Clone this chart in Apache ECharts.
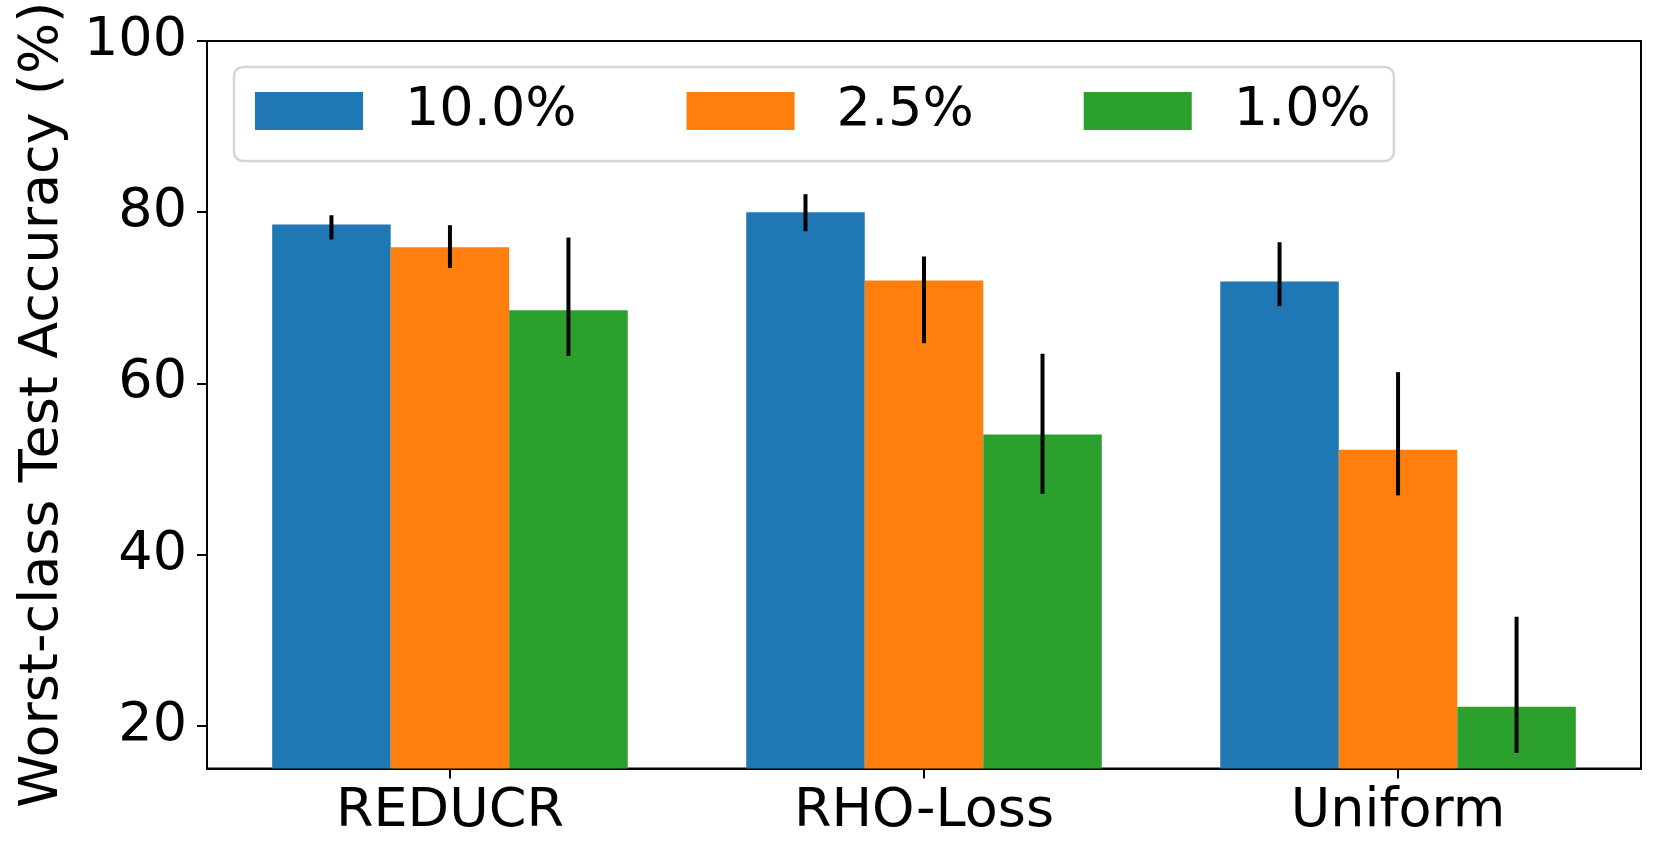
<!DOCTYPE html>
<html>
<head>
<meta charset="utf-8">
<script src="https://cdn.jsdelivr.net/npm/echarts@6/dist/echarts.min.js"></script>
<style>
  html, body { margin: 0; padding: 0; background: #ffffff; }
  #chart { width: 1662px; height: 861px; }
</style>
</head>
<body>
<div id="chart"></div>
<script>
// ---- data ----
const categories = ['REDUCR', 'RHO-Loss', 'Uniform'];
const seriesNames = ['10.0%', '2.5%', '1.0%'];
const yTicks = [20, 40, 60, 80, 100];

// bar heights, per series (10.0%, 2.5%, 1.0%), per category
const values10 = [78.56, 80.0, 71.9];
const values25 = [75.9, 72.02, 52.23];
const values1 = [68.55, 54.03, 22.22];

// error-bar lower / upper ends
const lower10 = [76.81, 77.78, 69.02];
const upper10 = [79.64, 82.1, 76.49];
const lower25 = [73.49, 64.69, 46.91];
const upper25 = [78.48, 74.82, 61.31];
const lower1 = [63.21, 47.1, 16.81];
const upper1 = [77.04, 63.45, 32.73];

// ---- build ----
const allValues = [values10, values25, values1];
const allLower = [lower10, lower25, lower1];
const allUpper = [upper10, upper25, upper1];
const colors = ['#1f77b4', '#ff7f0e', '#2ca02c'];
const offsets = [-0.25, 0, 0.25];
const barW = 0.25;
const yMin = 15, yMax = 100;
const FONT = 'DejaVu Sans';

function makeSeries(si) {
  return {
    type: 'custom',
    name: seriesNames[si],
    itemStyle: { color: colors[si] },
    encode: { x: 0, y: [1, 2, 3] },
    data: categories.map((c, i) => [i, allValues[si][i], allLower[si][i], allUpper[si][i]]),
    renderItem: function (params, api) {
      const x = api.value(0) + offsets[si];
      const v = api.value(1);
      const p0 = api.coord([x - barW / 2, v]);
      const p1 = api.coord([x + barW / 2, yMin]);
      const e0 = api.coord([x, api.value(2)]);
      const e1 = api.coord([x, api.value(3)]);
      return {
        type: 'group',
        children: [
          { type: 'rect', shape: { x: p0[0], y: p0[1], width: p1[0] - p0[0], height: p1[1] - p0[1] },
            style: { fill: colors[si] } },
          { type: 'line', z2: 10, shape: { x1: e0[0], y1: e0[1], x2: e1[0], y2: e1[1] },
            style: { stroke: '#000000', lineWidth: 4 } }
        ]
      };
    }
  };
}

const chart = echarts.init(document.getElementById('chart'), null, { renderer: 'canvas' });
chart.setOption({
  animation: false,
  backgroundColor: '#ffffff',
  grid: {
    left: 207, top: 41, width: 1434, height: 727.5,
    containLabel: false, outerBoundsMode: 'none',
    show: true, borderColor: '#000000', borderWidth: 2, backgroundColor: 'transparent'
  },
  legend: {
    left: 234, top: 67,
    orient: 'horizontal',
    data: seriesNames.map((n, i) => ({ name: n, icon: 'rect', itemStyle: { color: colors[i] } })),
    itemWidth: 108, itemHeight: 38, itemGap: 110,
    padding: [14, 23, 20, 21],
    backgroundColor: 'rgba(255,255,255,0.8)',
    borderColor: '#d5d5d5', borderWidth: 2.5, borderRadius: 9,
    selectedMode: false,
    textStyle: { fontFamily: FONT, fontSize: 54, color: '#000000', lineHeight: 60, padding: [0, 0, 0, 37] }
  },
  xAxis: {
    type: 'value', min: -0.5125, max: 2.5125,
    axisLine: { show: true, onZero: false, lineStyle: { color: '#000000', width: 2 } },
    axisTick: { show: true, length: 10, customValues: [0, 1, 2], lineStyle: { color: '#000000', width: 2 } },
    axisLabel: {
      customValues: [0, 1, 2],
      formatter: v => categories[Math.round(v)],
      fontFamily: FONT, fontSize: 54, color: '#000000', margin: 16
    },
    splitLine: { show: false }
  },
  yAxis: {
    type: 'value', min: yMin, max: yMax,
    name: 'Worst-class Test Accuracy (%)',
    nameLocation: 'middle', nameGap: 137, nameRotate: 90,
    nameTextStyle: { fontFamily: FONT, fontSize: 54, color: '#000000' },
    axisLine: { show: true, onZero: false, lineStyle: { color: '#000000', width: 2 } },
    axisTick: { show: true, length: 10, customValues: yTicks, lineStyle: { color: '#000000', width: 2 } },
    axisLabel: { customValues: yTicks, fontFamily: FONT, fontSize: 54, color: '#000000', margin: 20 },
    splitLine: { show: false }
  },
  series: [makeSeries(0), makeSeries(1), makeSeries(2)]
});
</script>
</body>
</html>
